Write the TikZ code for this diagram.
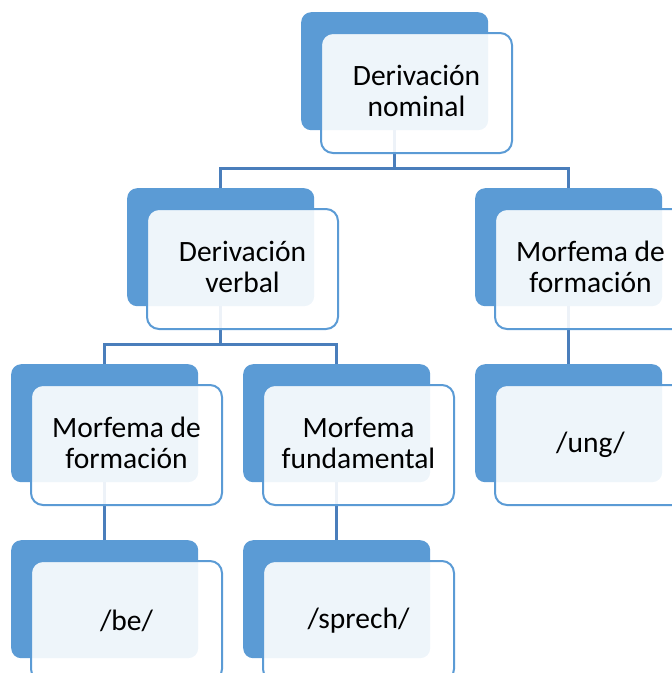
\documentclass[tikz,border=0pt]{standalone}
\usepackage{fontspec}
\setmainfont{Carlito}
\definecolor{acc}{HTML}{5B9BD5}
\definecolor{connc}{HTML}{4A7EBB}
\begin{document}
\begin{tikzpicture}[x=1pt,y=-1pt,
 back/.style={fill=acc, rounded corners=10pt, minimum width=187pt, minimum height=118pt, inner sep=0pt, anchor=north west},
 front/.style={draw=acc, line width=2pt, fill=white, fill opacity=0.9, text opacity=1, rounded corners=12pt, minimum width=191pt, minimum height=120pt, inner sep=0pt, anchor=north west},
 label/.style={align=center, font=\fontsize{29.5}{31}\selectfont, inner sep=0pt},
 connline/.style={draw=connc, line width=2.8pt}]
\useasboundingbox (0,0) rectangle (672,673);
\clip (0,0) rectangle (672,673);
% back rectangles
\node[back] (top) at (301,12) {};
\node[back] (dv) at (127,188) {};
\node[back] (mfr) at (475,188) {};
\node[back] (mfl) at (11,364) {};
\node[back] (mfund) at (243,364) {};
\node[back] (ung) at (475,364) {};
\node[back] (be) at (11,540) {};
\node[back] (sprech) at (243,540) {};
% connectors
\draw[connline] (top.south) -- ++(0,38) coordinate (j1);
\draw[connline] (dv.north) |- (j1) -| (mfr.north);
\draw[connline] (dv.south) -- ++(0,38) coordinate (j2);
\draw[connline] (mfl.north) |- (j2) -| (mfund.north);
\draw[connline] (mfr.south) -- (ung.north);
\draw[connline] (mfl.south) -- (be.north);
\draw[connline] (mfund.south) -- (sprech.north);
% front rectangles
\node[front] (topf) at ([shift={(19,20)}]top.north west) {};
\node[front] (dvf) at ([shift={(19,20)}]dv.north west) {};
\node[front] (mfrf) at ([shift={(19,20)}]mfr.north west) {};
\node[front] (mflf) at ([shift={(19,20)}]mfl.north west) {};
\node[front] (mfundf) at ([shift={(19,20)}]mfund.north west) {};
\node[front] (ungf) at ([shift={(19,20)}]ung.north west) {};
\node[front] (bef) at ([shift={(19,20)}]be.north west) {};
\node[front] (sprechf) at ([shift={(19,20)}]sprech.north west) {};
% texts
\node[label] (topt) at ([yshift=2pt]topf.center) {Derivación\\nominal};
\node[label] (dvt) at ([yshift=2pt]dvf.center) {Derivación\\verbal};
\node[label] (mfrt) at ([yshift=2pt]mfrf.center) {Morfema de\\formación};
\node[label] (mflt) at ([yshift=2pt]mflf.center) {Morfema de\\formación};
\node[label] (mfundt) at ([yshift=2pt]mfundf.center) {Morfema\\fundamental};
\node[label] (ungt) at (ungf.center) {/ung/};
\node[label] (bet) at (bef.center) {/be/};
\node[label] (sprecht) at (sprechf.center) {/sprech/};
\end{tikzpicture}
\end{document}
